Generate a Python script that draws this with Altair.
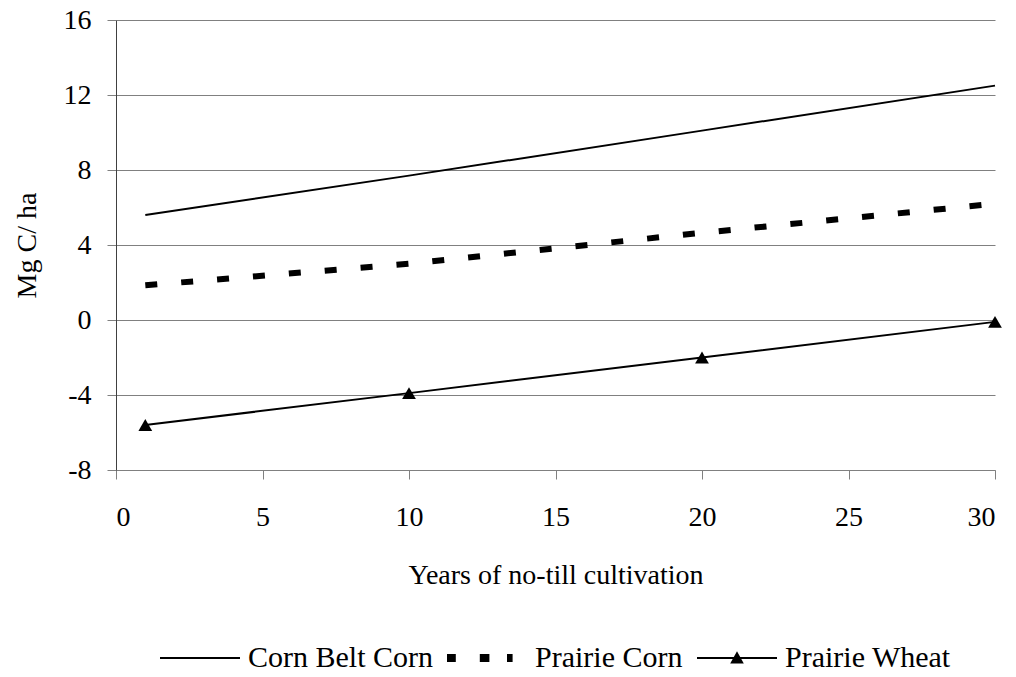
import altair as alt
import pandas as pd

years = [1, 10, 20, 30]
corn_belt = [5.6, 7.7, 10.1, 12.5]
prairie_corn = [1.85, 3.0, 4.65, 6.2]
prairie_wheat = [-5.6, -3.9, -2.0, -0.1]

series = ["Corn Belt Corn", "Prairie Corn", "Prairie Wheat"]
y_ticks = [-8, -4, 0, 4, 8, 12, 16]
x_ticks = [0, 5, 10, 15, 20, 25, 30]

rows = []
for name, vals in zip(series, [corn_belt, prairie_corn, prairie_wheat]):
    for yr, v in zip(years, vals):
        rows.append({"series": name, "year": yr, "value": v})
df = pd.DataFrame(rows)

FONT = "Liberation Serif"

x_enc = alt.X("year:Q", scale=alt.Scale(domain=[0, 30], nice=False),
              axis=alt.Axis(values=x_ticks, title="Years of no-till cultivation", grid=False,
                            labelExpr="replace(datum.label, '\u2212', '-')"))
y_enc = alt.Y("value:Q", scale=alt.Scale(domain=[-8, 16], nice=False),
              axis=alt.Axis(values=y_ticks, title="Mg C/ ha", grid=True,
                            labelExpr="replace(datum.label, '\u2212', '-')"))

base = alt.Chart(df)

line_cb = base.transform_filter(alt.datum.series == "Corn Belt Corn").mark_line(
    color="black", strokeWidth=2).encode(x=x_enc, y=y_enc)
line_pc = base.transform_filter(alt.datum.series == "Prairie Corn").mark_line(
    color="black", strokeWidth=6, strokeDash=[12, 24], strokeCap="butt").encode(x="year:Q", y="value:Q")
line_pw = base.transform_filter(alt.datum.series == "Prairie Wheat").mark_line(
    color="black", strokeWidth=2).encode(x="year:Q", y="value:Q")

tri = base.transform_filter(alt.datum.series == "Prairie Wheat").mark_point(
    shape="triangle-up", filled=True, color="black", size=190, opacity=1
).encode(x="year:Q", y="value:Q")

# legend symbol shapes (filled paths; unit = half the 80px symbol width)
legend_paths = [
    "M-1,-0.025H1V0.025H-1Z",
    "M-1,-0.1H-0.78V0.1H-1Z M-0.18,-0.1H0.06V0.1H-0.18Z M0.5,-0.1H0.64V0.1H0.5Z",
    "M-1,-0.025H1V0.025H-1Z M0,-0.17L0.17,0.14L-0.17,0.14Z",
]

# helper layer used only to produce the legend; its points fall outside the y domain and are clipped
leg = base.transform_calculate(off="1000").mark_point(filled=True, color="black", clip=True).encode(
    x="year:Q", y="off:Q",
    shape=alt.Shape("series:N", scale=alt.Scale(domain=series, range=legend_paths),
                    legend=alt.Legend(title=None, orient="none", legendX=44, legendY=598,
                                      direction="horizontal", columns=3,
                                      symbolSize=6400, symbolOpacity=1,
                                      symbolFillColor="black", symbolStrokeWidth=0,
                                      labelOffset=8, columnPadding=14, labelLimit=0,
                                      labelFont=FONT, labelFontSize=30, labelColor="black")),
)

chart = alt.layer(line_cb, line_pc, line_pw, tri, leg).properties(
    width=879, height=450,
    autosize=alt.AutoSizeParams(type="none"),
    padding={"left": 108, "top": 12, "right": 13, "bottom": 207},
).configure_view(stroke=None).configure_axis(
    labelFont=FONT, titleFont=FONT, labelColor="black", titleColor="black",
    labelFontSize=28, titleFontSize=28, titleFontWeight="normal",
    gridColor="#808080", gridWidth=1, tickColor="#808080", tickSize=9,
).configure_axisY(
    domainColor="#404040", labelPadding=16, titlePadding=22,
).configure_axisX(
    domainColor="#808080", labelPadding=24, titlePadding=30,
)

chart.save("out.html", embed_options={"renderer": "svg", "actions": False})
